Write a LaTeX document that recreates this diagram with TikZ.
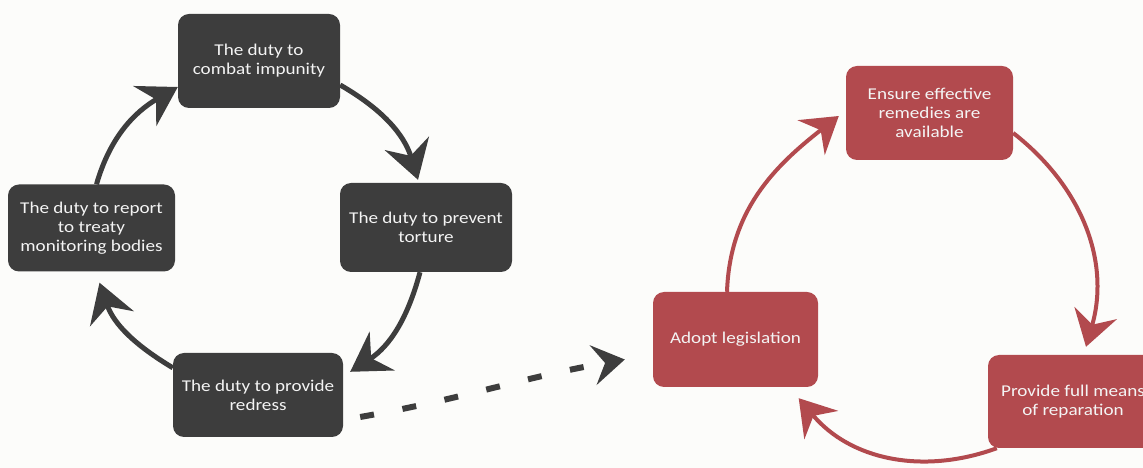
\documentclass[tikz,border=0pt]{standalone}
\usepackage{fontspec}
\setmainfont{Carlito}[FakeStretch=1.16]
\usetikzlibrary{arrows.meta}
\definecolor{dk}{HTML}{3D3D3D}
\definecolor{rd}{HTML}{B24A4E}
\definecolor{bg}{HTML}{FCFCFA}
\definecolor{tx}{HTML}{F4F4F4}
\begin{document}
\begin{tikzpicture}[x=1pt,y=1pt,
  box/.style={rounded corners=11pt, text=tx, align=center, inner sep=0pt,
    font=\fontsize{16.5}{19}\selectfont},
  dbox/.style={box, fill=dk},
  rbox/.style={box, fill=rd},
  darr/.style={draw=dk, line width=5pt, -{Stealth[length=38pt,width=46pt,inset=13pt]}},
  rarr/.style={draw=rd, line width=4pt, -{Stealth[length=35pt,width=44pt,inset=12pt]}},
  dotarr/.style={draw=dk, line width=6pt, dash pattern=on 14pt off 29pt,
    -{Stealth[length=32pt,width=40pt,inset=12pt]}}]
\fill[bg] (0,0) rectangle (1143,468);
\useasboundingbox (0,0) rectangle (1143,468);

% left cycle
\node[dbox, minimum width=162pt, minimum height=94pt] (imp) at (259,407) {The duty to\\combat impunity};
\node[dbox, minimum width=172pt, minimum height=89pt] (prev) at (426,240.5) {The duty to prevent\\torture};
\node[dbox, minimum width=170pt, minimum height=84pt] (red) at (258,73) {The duty to provide\\redress};
\node[dbox, minimum width=167pt, minimum height=87pt] (rep) at (91.5,240) {The duty to report\\to treaty\\monitoring bodies};

\draw[darr] ([yshift=-24pt]imp.east) to[out=-30,in=107] ([xshift=-8pt,yshift=3pt]prev.north);
\draw[darr] ([xshift=-6pt]prev.south) to[out=-105,in=33] ([xshift=7pt,yshift=-19pt]red.north east);
\draw[darr] ([yshift=-15pt]red.north west) to[out=149,in=-71] ([xshift=8pt,yshift=-11pt]rep.south);
\draw[darr] ([xshift=5pt]rep.north) to[out=74,in=210] ([yshift=-26pt]imp.west);

% right cycle
\node[rbox, minimum width=167pt, minimum height=94pt] (ens) at (929.5,355) {Ensure effective\\remedies are\\available};
\node[rbox, minimum width=165pt, minimum height=95pt] (ado) at (735.5,128.5) {Adopt legislation};
\node[rbox, minimum width=170pt, minimum height=93pt] (pfm) at (1073,66.5) {Provide full means\\of reparation};

\draw[rarr] ([xshift=-8.5pt]ado.north) to[out=88,in=218] ([xshift=-7pt,yshift=-3pt]ens.west);
\draw[rarr] ([yshift=-20pt]ens.east) to[out=-38,in=74] ([xshift=13pt,yshift=8pt]pfm.north);
\draw[rarr] ([xshift=9pt]pfm.south west) to[out=200,in=-50] ([xshift=-19.5pt,yshift=-11pt]ado.south east);

% dotted link
\draw[dotarr] ([xshift=17pt,yshift=-22pt]red.east) to[out=10,in=190] ([xshift=-28pt,yshift=-20pt]ado.west);
\end{tikzpicture}
\end{document}
